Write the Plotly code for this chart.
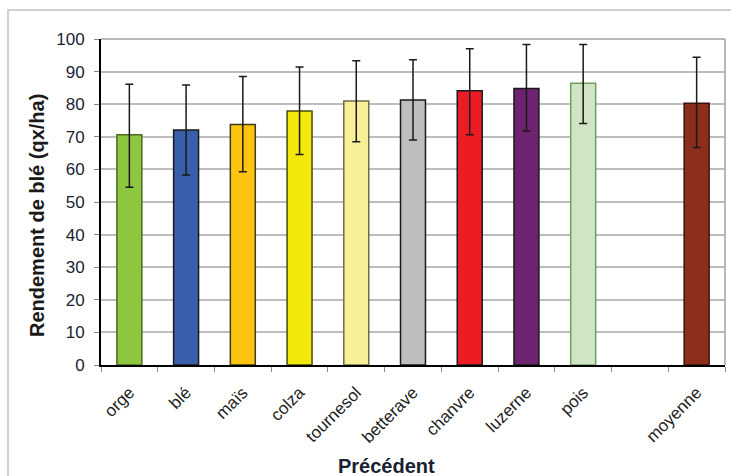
import plotly.graph_objects as go

categories = ["orge", "blé", "maïs", "colza", "tournesol", "betterave",
              "chanvre", "luzerne", "pois", " ", "moyenne"]
bar_categories = ["orge", "blé", "maïs", "colza", "tournesol", "betterave",
                  "chanvre", "luzerne", "pois", "moyenne"]
rendement = [70.6, 72.1, 73.8, 77.9, 81.0, 81.3, 84.1, 84.8, 86.4, 80.3]
err_plus = [15.5, 13.8, 14.7, 13.5, 12.3, 12.3, 12.9, 13.5, 11.9, 14.1]
err_minus = [16.1, 13.8, 14.5, 13.3, 12.5, 12.3, 13.5, 13.0, 12.3, 13.6]
fill_colors = ["#8DC63F", "#3A5FAA", "#FDC311", "#F2E80C", "#F7F098",
               "#BEBEBE", "#ED1C24", "#6E2371", "#CFE5C6", "#8C2E1B"]
line_colors = ["#4E6B22", "#1A1A1A", "#3A3A1A", "#4A4A10", "#6E6C40",
               "#1A1A1A", "#1A1A1A", "#1A1A1A", "#6E9E5E", "#3A1408"]
y_ticks = list(range(0, 101, 10))
x_title = "Précédent"
y_title = "Rendement de blé (qx/ha)"

fig = go.Figure()
fig.add_trace(go.Bar(
    x=bar_categories,
    y=rendement,
    marker=dict(color=fill_colors, line=dict(color=line_colors, width=1.5)),
    error_y=dict(type="data", symmetric=False, array=err_plus,
                 arrayminus=err_minus, color="#1a1a1a", thickness=1.5, width=4),
    showlegend=False,
))

fig.update_layout(
    width=731, height=476,
    margin=dict(l=101, r=6, t=39, b=111, autoexpand=False),
    paper_bgcolor="white", plot_bgcolor="white",
    bargap=0.56,
    font=dict(family="Liberation Sans, Arial", color="#1a1a1a"),
    xaxis=dict(
        type="category", categoryorder="array", categoryarray=categories,
        tickangle=-45, tickfont=dict(size=17, color="#222222"),
        showline=True, linecolor="#000000", linewidth=2,
        mirror=False, showgrid=False, automargin=False,
        ticks="outside", ticklen=5, tickcolor="#888888", tickson="boundaries",
        ticklabelstandoff=9,
    ),
    yaxis=dict(
        range=[0, 100], tickvals=y_ticks, automargin=False,
        tickfont=dict(size=17, color="#1a1f33"),
        showline=True, linecolor="#000000", linewidth=2,
        showgrid=True, gridcolor="#BDBDBD", gridwidth=1.5,
        ticks="outside", ticklen=5, tickcolor="#888888",
        ticklabelstandoff=6,
    ),
    annotations=[
        dict(text="<b>" + x_title + "</b>", xref="paper", yref="paper",
             x=0.457, y=-0.31, xanchor="center", yanchor="middle",
             showarrow=False, font=dict(size=20, color="#1a1f33")),
        dict(text="<b>" + y_title + "</b>", xref="paper", yref="paper",
             x=-0.1026, y=0.46, xanchor="center", yanchor="middle",
             textangle=-90, showarrow=False,
             font=dict(size=20, color="#1a1a1a")),
    ],
    shapes=[
        dict(type="line", xref="paper", yref="paper", x0=0, x1=1, y0=1, y1=1,
             line=dict(color="#A0A0A0", width=1.5)),
        dict(type="line", xref="paper", yref="paper", x0=1, x1=1, y0=0, y1=1,
             line=dict(color="#A0A0A0", width=1.5)),
        dict(type="rect", xref="paper", yref="paper", x0=-0.149, x1=1.2,
             y0=-0.6, y1=1.089, line=dict(color="#D0D0D0", width=2),
             layer="below"),
    ],
)

fig.write_html("out.html", config={"displayModeBar": False},
               post_script="document.body.style.margin='0';document.body.style.padding='0';")
